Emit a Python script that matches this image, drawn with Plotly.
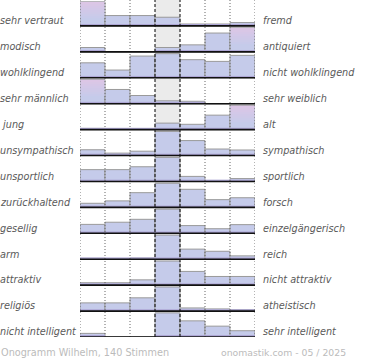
import plotly.graph_objects as go

left_labels = ["sehr vertraut", "modisch", "wohlklingend", "sehr männlich", " jung",
               "unsympathisch", "unsportlich", "zurückhaltend", "gesellig", "arm",
               "attraktiv", "religiös", "nicht intelligent"]
right_labels = ["fremd", "antiquiert", "nicht wohlklingend", "sehr weiblich", "alt",
                "sympathisch", "sportlich", "forsch", "einzelgängerisch", "reich",
                "nicht attraktiv", "atheistisch", "sehr intelligent"]
bins = [1, 2, 3, 4, 5, 6, 7]
values = [
    [100, 43, 43, 36, 8, 8, 14],
    [18, 0, 0, 18, 29, 78, 100],
    [62, 32, 90, 100, 75, 68, 93],
    [100, 59, 34, 12, 10, 0, 0],
    [5, 2, 4, 27, 22, 60, 100],
    [24, 10, 18, 100, 62, 27, 23],
    [49, 49, 61, 100, 21, 2, 12],
    [17, 27, 61, 100, 75, 32, 40],
    [37, 46, 58, 100, 32, 19, 36],
    [4, 2, 5, 100, 42, 33, 14],
    [10, 10, 22, 100, 57, 36, 36],
    [34, 34, 55, 100, 13, 9, 6],
    [15, 0, 0, 100, 67, 45, 26],
]
footer_left = "Onogramm Wilhelm, 140 Stimmen"
footer_right = "onomastik.com - 05 / 2025"

n = len(values)
scale = 0.93
fig = go.Figure()


def mix(c1, c2, t):
    a = [int(c1[i:i + 2], 16) for i in (1, 3, 5)]
    b = [int(c2[i:i + 2], 16) for i in (1, 3, 5)]
    return "#" + "".join(f"{round(a[k] + (b[k] - a[k]) * t):02x}" for k in range(3))


for r, row in enumerate(values):
    base = n - 1 - r
    heights = [v / 100 * scale for v in row]
    fig.add_trace(go.Bar(
        x=bins, y=heights, base=[base] * 7, width=1,
        marker=dict(color="#c5cbea", line=dict(color="#9a9a9a", width=1)),
        hoverinfo="skip", showlegend=False))
    # pinkish gradient on the top of the extreme peak bars
    for j, v in enumerate(row):
        if v == 100 and bins[j] in (1, 7):
            steps = 8
            for s in range(steps):
                t0 = 0.35 + 0.65 * s / steps
                fig.add_trace(go.Bar(
                    x=[bins[j]], y=[heights[j] * 0.65 / steps - 0.005],
                    base=[base + heights[j] * t0], width=0.96,
                    marker=dict(color=mix("#c5cbea", "#dcc6e6", (s + 1) / steps),
                                line=dict(width=0)),
                    hoverinfo="skip", showlegend=False))
    # darker bottom strip
    fig.add_trace(go.Bar(
        x=bins, y=[0.07 if v > 0 else 0 for v in row], base=[base] * 7, width=1,
        marker=dict(color="#ada6d4", line=dict(width=0)),
        hoverinfo="skip", showlegend=False))

shapes = []
shapes.append(dict(type="rect", xref="x", yref="y", x0=3.5, x1=4.5, y0=0, y1=n,
                   fillcolor="#ebebeb", line=dict(width=0), layer="below"))
for xv in [0.5, 1.5, 2.5, 5.5, 6.5, 7.5]:
    shapes.append(dict(type="line", xref="x", yref="y", x0=xv, x1=xv, y0=0, y1=n,
                       line=dict(color="#666", width=1, dash="1px,2px"), layer="above"))
for xv in [3.5, 4.5]:
    shapes.append(dict(type="line", xref="x", yref="y", x0=xv, x1=xv, y0=0, y1=n,
                       line=dict(color="#000", width=1, dash="3px,2px"), layer="above"))
for r in range(n):
    b = n - 1 - r
    shapes.append(dict(type="line", xref="x", yref="y", x0=0.5, x1=7.5, y0=b, y1=b,
                       line=dict(color="#111", width=1.6), layer="above"))

label_font = dict(family="DejaVu Sans", size=9.7, color="#5a5a5a", style="italic")
annotations = []
for r in range(n):
    b = n - 1 - r
    annotations.append(dict(text=left_labels[r], xref="paper", yref="y",
                            x=-82 / 175, y=b + 0.2, xanchor="left", yanchor="middle",
                            showarrow=False, font=label_font))
    annotations.append(dict(text=right_labels[r], xref="paper", yref="y",
                            x=(261 - 80) / 175, y=b + 0.2, xanchor="left", yanchor="middle",
                            showarrow=False, font=label_font))
annotations.append(dict(text=footer_left, xref="paper", yref="paper",
                        x=-81 / 175, y=-15 / 337, xanchor="left", yanchor="middle",
                        showarrow=False,
                        font=dict(family="DejaVu Sans", size=9.7, color="#bbb")))
annotations.append(dict(text=footer_right, xref="paper", yref="paper",
                        x=(219 - 80) / 175, y=-15 / 337, xanchor="left", yanchor="middle",
                        showarrow=False,
                        font=dict(family="DejaVu Sans", size=9.3, color="#bbb")))

fig.update_layout(
    width=370, height=360, margin=dict(l=80, r=115, t=0, b=23),
    paper_bgcolor="white", plot_bgcolor="white", barmode="overlay",
    xaxis=dict(range=[0.5, 7.5], visible=False, fixedrange=True),
    yaxis=dict(range=[0, n], visible=False, fixedrange=True),
    shapes=shapes, annotations=annotations,
)
fig.write_html("out.html", config={"displayModeBar": False},
               post_script="document.body.style.margin='0';document.body.style.overflow='hidden';")
